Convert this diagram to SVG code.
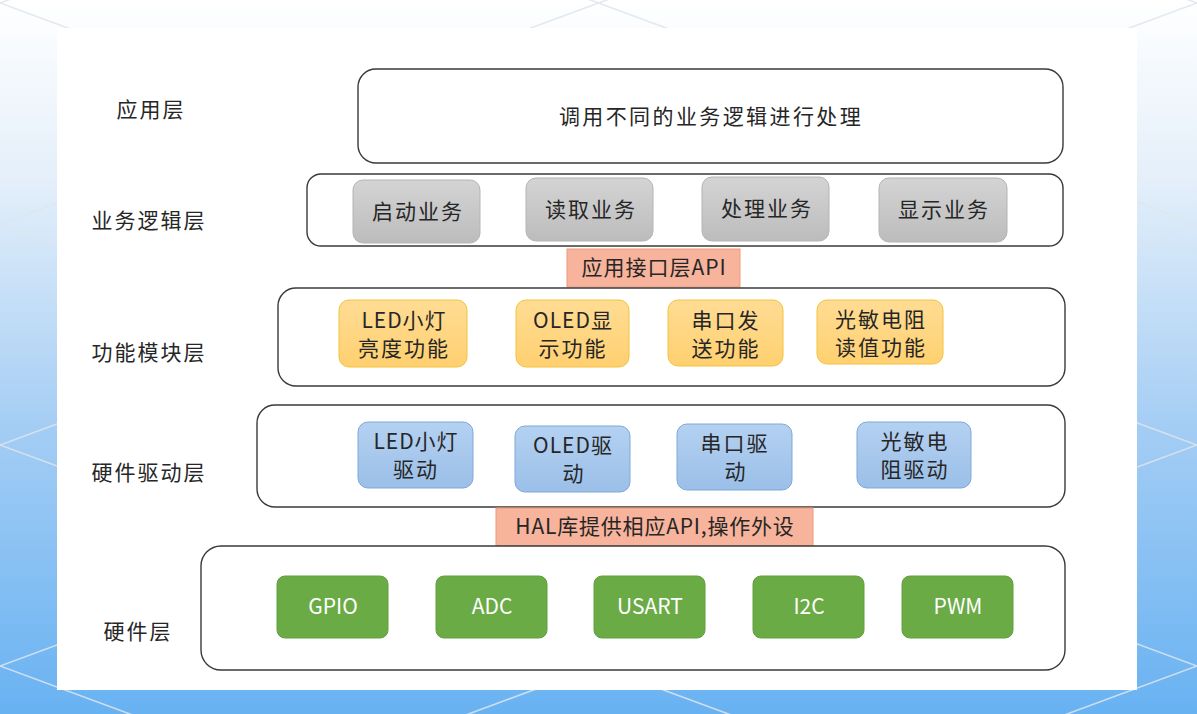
<svg xmlns="http://www.w3.org/2000/svg" width="1197" height="714" viewBox="0 0 1197 714">
<defs>
<linearGradient id="bg" x1="0" y1="0" x2="0" y2="1">
<stop offset="0" stop-color="#ffffff"/>
<stop offset="0.25" stop-color="#e4effa"/>
<stop offset="0.6" stop-color="#a4cdf4"/>
<stop offset="1" stop-color="#68b2f2"/>
</linearGradient>
<linearGradient id="gGray" x1="0" y1="0" x2="0" y2="1">
<stop offset="0" stop-color="#d4d4d4"/>
<stop offset="1" stop-color="#bcbcbc"/>
</linearGradient>
<linearGradient id="gYel" x1="0" y1="0" x2="0" y2="1">
<stop offset="0" stop-color="#ffdc94"/>
<stop offset="1" stop-color="#ffd070"/>
</linearGradient>
<linearGradient id="gBlue" x1="0" y1="0" x2="0" y2="1">
<stop offset="0" stop-color="#b4d1f1"/>
<stop offset="1" stop-color="#9bbfe8"/>
</linearGradient>
<style>
text{font-family:"Noto Sans CJK SC","Noto Sans",sans-serif;fill:#262626;font-size:21px;text-anchor:middle}
.lbl{letter-spacing:2px}
.layer{fill:#ffffff;stroke:#3a3a3a;stroke-width:1.4}
.gray{fill:url(#gGray);stroke:#b4b4b4;stroke-width:1}
.yel{fill:url(#gYel);stroke:#f3c23c;stroke-width:1}
.blue{fill:url(#gBlue);stroke:#7ea9d8;stroke-width:1}
.api{fill:#f7b39b;stroke:#f09a78;stroke-width:1}
.green{fill:#6aab45;stroke:#62a03f;stroke-width:1}
.wt{fill:#ffffff;font-size:21px}
.lat{stroke:#dfe6ee;stroke-width:1.6;fill:none;opacity:0.85}
</style>
</defs>
<g id="background">
<rect x="0" y="0" width="1197" height="714" fill="url(#bg)"/>
<g class="lat">
<path d="M0 -1102 L1197 -660 M0 -881 L1197 -439 M0 -660 L1197 -218 M0 -439 L1197 3 M0 -218 L1197 224 M0 3 L1197 445 M0 224 L1197 666 M0 445 L1197 887 M0 666 L1197 1108"/>
<path d="M0 3 L1197 -439 M0 224 L1197 -218 M0 445 L1197 3 M0 666 L1197 224 M0 887 L1197 445 M0 1108 L1197 666 M0 1329 L1197 887 M0 1550 L1197 1108 M0 1771 L1197 1329"/>
</g>
<rect x="57" y="28" width="1080" height="662" fill="#ffffff"/>
</g>
<g id="connectors"></g>
<g id="labels">
<text class="lbl" x="151" y="117">应用层</text>
<text class="lbl" x="149" y="228">业务逻辑层</text>
<text class="lbl" x="149" y="360">功能模块层</text>
<text class="lbl" x="149" y="480">硬件驱动层</text>
<text class="lbl" x="138" y="639">硬件层</text>
</g>
<g id="app-layer">
<rect class="layer" x="358" y="69" width="705" height="94" rx="18"/>
<text class="lbl" x="711" y="124" style="font-size:21px;letter-spacing:2.4px">调用不同的业务逻辑进行处理</text>
</g>
<g id="biz-layer">
<rect class="layer" x="307" y="174" width="756" height="72" rx="14"/>
</g>
<g id="biz-start"><rect class="gray" x="353" y="180" width="127" height="63" rx="10"/><text class="lbl" x="418" y="219">启动业务</text></g>
<g id="biz-read"><rect class="gray" x="526" y="178" width="127" height="63" rx="10"/><text class="lbl" x="591" y="217">读取业务</text></g>
<g id="biz-proc"><rect class="gray" x="702" y="177" width="127" height="64" rx="10"/><text class="lbl" x="767" y="216">处理业务</text></g>
<g id="biz-show"><rect class="gray" x="879" y="178" width="128" height="64" rx="10"/><text class="lbl" x="944" y="217">显示业务</text></g>
<g id="api-app"><rect class="api" x="567" y="249" width="173" height="38"/><text x="654" y="275" style="letter-spacing:1px">应用接口层API</text></g>
<g id="func-layer">
<rect class="layer" x="278" y="288" width="787" height="98" rx="18"/>
</g>
<g id="func-led"><rect class="yel" x="339" y="300" width="128" height="67" rx="10"/><text x="404" y="328" class="lbl" style="letter-spacing:1px">LED小灯</text><text class="lbl" x="404" y="356">亮度功能</text></g>
<g id="func-oled"><rect class="yel" x="516" y="300" width="113" height="67" rx="10"/><text x="573" y="328" style="letter-spacing:1px">OLED显</text><text class="lbl" x="573" y="356">示功能</text></g>
<g id="func-uart"><rect class="yel" x="668" y="300" width="115" height="66" rx="10"/><text class="lbl" x="726" y="328">串口发</text><text class="lbl" x="726" y="356">送功能</text></g>
<g id="func-ldr"><rect class="yel" x="817" y="300" width="126" height="64" rx="10"/><text class="lbl" x="881" y="327">光敏电阻</text><text class="lbl" x="881" y="355">读值功能</text></g>
<g id="drv-layer">
<rect class="layer" x="257" y="405" width="808" height="102" rx="18"/>
</g>
<g id="drv-led"><rect class="blue" x="358" y="422" width="115" height="66" rx="10"/><text x="416" y="449" style="letter-spacing:1px">LED小灯</text><text class="lbl" x="416" y="477">驱动</text></g>
<g id="drv-oled"><rect class="blue" x="515" y="426" width="115" height="66" rx="10"/><text x="573" y="453" style="letter-spacing:1px">OLED驱</text><text x="573" y="481">动</text></g>
<g id="drv-uart"><rect class="blue" x="677" y="424" width="115" height="66" rx="10"/><text class="lbl" x="735" y="451">串口驱</text><text x="735" y="479">动</text></g>
<g id="drv-ldr"><rect class="blue" x="857" y="422" width="114" height="66" rx="10"/><text class="lbl" x="915" y="449">光敏电</text><text class="lbl" x="915" y="477">阻驱动</text></g>
<g id="api-hal"><rect class="api" x="496" y="508" width="317" height="38"/><text x="655" y="534" style="letter-spacing:0.8px">HAL库提供相应API,操作外设</text></g>
<g id="hw-layer">
<rect class="layer" x="201" y="546" width="864" height="124" rx="20"/>
</g>
<g id="hw-gpio"><rect class="green" x="277" y="576" width="111" height="62" rx="8"/><text class="wt" x="333" y="614">GPIO</text></g>
<g id="hw-adc"><rect class="green" x="436" y="576" width="111" height="62" rx="8"/><text class="wt" x="492" y="614">ADC</text></g>
<g id="hw-usart"><rect class="green" x="594" y="576" width="111" height="62" rx="8"/><text class="wt" x="650" y="614">USART</text></g>
<g id="hw-i2c"><rect class="green" x="753" y="576" width="111" height="62" rx="8"/><text class="wt" x="809" y="614">I2C</text></g>
<g id="hw-pwm"><rect class="green" x="902" y="576" width="111" height="62" rx="8"/><text class="wt" x="958" y="614">PWM</text></g>
</svg>
